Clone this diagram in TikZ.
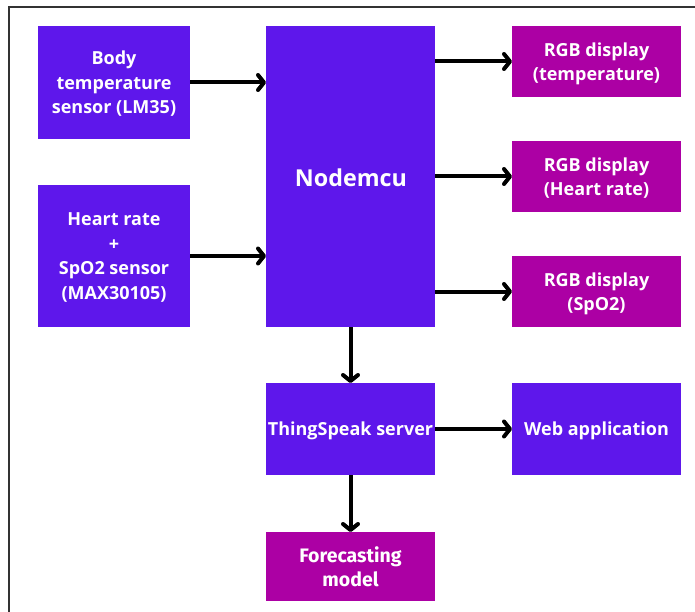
\documentclass[tikz,border=0pt]{standalone}
\usepackage{fontspec}
\setmainfont{Open Sans}
\newfontfamily\fcfont{Fira Sans}
\usetikzlibrary{arrows.meta}
\definecolor{vblue}{HTML}{5E17EB}
\definecolor{vmag}{HTML}{AC00A4}
\definecolor{framecol}{HTML}{333333}
\tikzset{
  box/.style={fill=#1, draw=none, anchor=north west, inner sep=0pt, outer sep=0pt,
    text=white, align=center, text depth=0pt, font=\fontsize{18}{24.5}\selectfont\bfseries},
  arr/.style={line width=4pt, -{Straight Barb[length=6pt, width=15pt, line cap=round, line join=round]}},
}
\begin{document}
\begin{tikzpicture}[x=1pt, y=-1pt]
\useasboundingbox (0,0) rectangle (695,612);
\draw[framecol, line width=1.8pt] (9,612) coordinate (fbl) -- (9,7) coordinate (ftl) -- (695,7) coordinate (ftr);
\node[box=vblue, minimum width=152pt, minimum height=113pt] (body) at (38,26) {Body\\temperature\\sensor (LM35)};
\node[box=vblue, minimum width=152pt, minimum height=142pt] (heart) at (38,185) {Heart rate\\+\\SpO2 sensor\\(MAX30105)};
\node[box=vblue, minimum width=169pt, minimum height=301pt] (mcu) at (266,26) {};
\node[text=white, font=\fontsize{23.3}{27}\selectfont\bfseries] (mcut) at (351,178) {Nodemcu};
\node[box=vmag, minimum width=169pt, minimum height=71pt] (rgb1) at (512,26) {RGB display\\(temperature)};
\node[box=vmag, minimum width=169pt, minimum height=71pt] (rgb2) at (512,141) {RGB display\\(Heart rate)};
\node[box=vmag, minimum width=169pt, minimum height=71pt] (rgb3) at (512,256) {RGB display\\(SpO2)};
\node[box=vblue, minimum width=169pt, minimum height=92pt] (ts) at (266,383) {ThingSpeak server};
\node[box=vblue, minimum width=169pt, minimum height=92pt] (web) at (512,383) {Web application};
\node[box=vmag, minimum width=169pt, minimum height=69pt, font=\fontsize{19.5}{24}\selectfont\fcfont\bfseries] (fcm) at (266,532) {Forecasting\\model};
\draw[arr] (body.east) -- (body.east -| mcu.west);
\draw[arr] (heart.east) -- (heart.east -| mcu.west);
\draw[arr] (rgb1.west -| mcu.east) -- (rgb1.west);
\draw[arr] (rgb2.west -| mcu.east) -- (rgb2.west);
\draw[arr] (rgb3.west -| mcu.east) -- (rgb3.west);
\draw[arr] (mcu.south) -- (ts.north);
\draw[arr] (ts.east) -- (web.west);
\draw[arr] (ts.south) -- (fcm.north);
\end{tikzpicture}
\end{document}
